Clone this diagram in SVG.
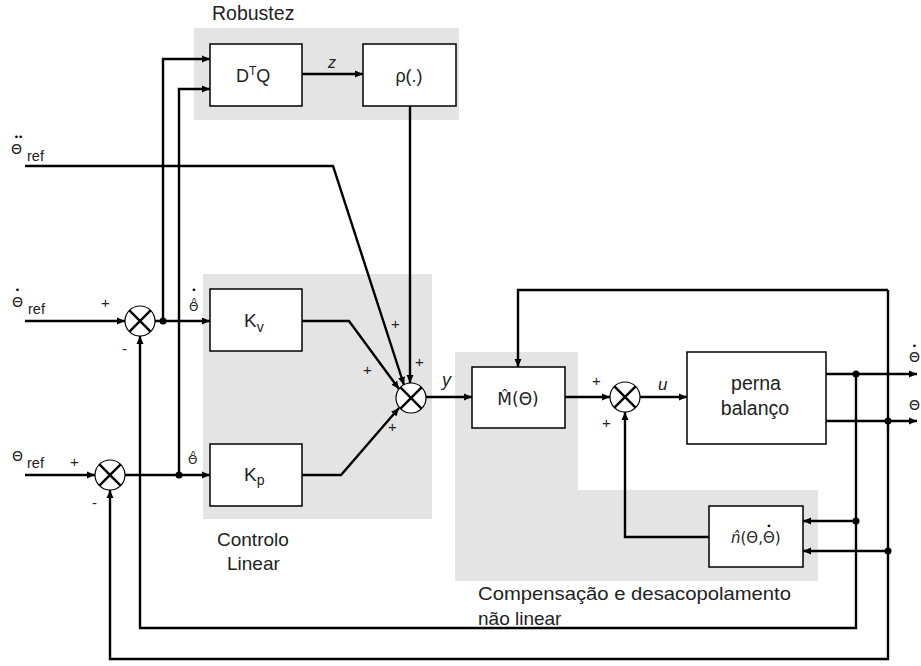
<svg xmlns="http://www.w3.org/2000/svg" width="921" height="666" viewBox="0 0 921 666">
<defs>
<marker id="ah" markerUnits="userSpaceOnUse" markerWidth="9" markerHeight="8" refX="8" refY="4" orient="auto">
<path d="M0,0.5 L8,4 L0,7.5 z" fill="#000"/>
</marker>
<style>
.bg{fill:#e4e4e4;stroke:none}
.box{fill:#fff;stroke:#000;stroke-width:1.5}
.ln{fill:none;stroke:#000;stroke-width:2.4;marker-end:url(#ah)}
.sumc{fill:#fff;stroke:#000;stroke-width:1.2}
.sumx{stroke:#000;stroke-width:2.4}
.t{font-family:"Liberation Sans",Arial,sans-serif;fill:#222}
.g{font-family:"DejaVu Sans",sans-serif;fill:#222}
.d{font-family:"DejaVu Sans",sans-serif;fill:#000;font-size:9px;text-anchor:middle}
.h{font-family:"Liberation Sans",Arial,sans-serif;fill:#222;font-size:10px;text-anchor:middle}
.dot{fill:#000}
</style>
</defs>
<rect width="921" height="666" fill="#fff"/>

<!-- gray regions -->
<g id="region-robustez">
<rect class="bg" x="194" y="28" width="265" height="92"/>
<text class="t" x="212" y="20" font-size="19.5">Robustez</text>
</g>
<g id="region-linear">
<rect class="bg" x="203" y="274" width="229" height="245"/>
<text class="t" x="217" y="546" font-size="19">Controlo</text>
<text class="t" x="227" y="570" font-size="19">Linear</text>
</g>
<g id="region-comp">
<path class="bg" d="M455,352 L578,352 L578,490 L818,490 L818,581 L455,581 z"/>
<text class="t" x="478" y="600" font-size="19" textLength="313" lengthAdjust="spacingAndGlyphs">Compensação e desacopolamento</text>
<text class="t" x="478" y="625" font-size="19">não linear</text>
</g>

<!-- connectors -->
<g id="connectors">
<path class="ln" d="M25,321 L125,321"/>
<path class="ln" d="M155,321 L210,321"/>
<path class="ln" d="M163,321 L163,59 L210,59"/>
<path class="ln" d="M25,475 L95,475"/>
<path class="ln" d="M125,475 L210,475"/>
<path class="ln" d="M179,475 L179,89 L210,89"/>
<path class="ln" d="M302,74 L363,74"/>
<path class="ln" d="M410,106 L410,383"/>
<path class="ln" d="M25,166 L333,166 L404,385"/>
<path class="ln" d="M302,321 L349,321 L399,389"/>
<path class="ln" d="M302,475 L341,475 L399,408"/>
<path class="ln" d="M426,397 L472,397"/>
<path class="ln" d="M565,397 L610,397"/>
<path class="ln" d="M640,397 L687,397"/>
<path class="ln" d="M826,374 L917,374"/>
<path class="ln" d="M826,421 L917,421"/>
<path class="ln" d="M888,290 L518,290 L518,367"/>
<path class="ln" d="M888,290 L888,659 L110,659 L110,490"/>
<path class="ln" d="M856,374 L856,628 L140,628 L140,336"/>
<path class="ln" d="M856,521 L803,521"/>
<path class="ln" d="M888,551 L803,551"/>
<path class="ln" d="M709,537 L625,537 L625,412"/>
<circle class="dot" cx="163" cy="321" r="3.5"/>
<circle class="dot" cx="179" cy="475" r="3.5"/>
<circle class="dot" cx="856" cy="374" r="3.5"/>
<circle class="dot" cx="888" cy="421" r="3.5"/>
<circle class="dot" cx="856" cy="521" r="3.5"/>
<circle class="dot" cx="888" cy="551" r="3.5"/>
</g>

<!-- signal labels -->
<g id="labels">
<text class="g" x="11" y="154" font-size="14">Θ</text>
<text class="d" x="18" y="140" letter-spacing="-1">••</text>
<text class="t" x="27" y="161" font-size="14.5">ref</text>
<text class="g" x="12" y="307" font-size="14">Θ</text>
<text class="d" x="17.5" y="293">•</text>
<text class="t" x="28" y="314" font-size="14.5">ref</text>
<text class="g" x="12" y="461" font-size="14">Θ</text>
<text class="t" x="27" y="468" font-size="14.5">ref</text>

<text class="g" x="189" y="311" font-size="12">Θ</text>
<text class="h" x="194" y="306">^</text>
<text class="d" x="194" y="293">•</text>
<text class="g" x="188" y="464" font-size="12">Θ</text>
<text class="h" x="193" y="459">^</text>

<text class="t" x="328" y="68" font-size="16" font-style="italic">z</text>
<text class="t" x="442" y="386" font-size="18" font-style="italic">y</text>
<text class="t" x="658" y="390" font-size="17" font-style="italic">u</text>
<text class="g" x="909" y="362" font-size="14">Θ</text>
<text class="d" x="914.5" y="349">•</text>
<text class="g" x="909" y="410" font-size="14">Θ</text>
<text class="t" x="101" y="308" font-size="15">+</text>
<text class="t" x="122" y="354" font-size="15">-</text>
<text class="t" x="70" y="467" font-size="15">+</text>
<text class="t" x="92" y="508" font-size="15">-</text>
<text class="t" x="391" y="329" font-size="15">+</text>
<text class="t" x="415" y="367" font-size="15">+</text>
<text class="t" x="363" y="375" font-size="15">+</text>
<text class="t" x="388" y="432" font-size="15">+</text>
<text class="t" x="592" y="386" font-size="15">+</text>
<text class="t" x="602" y="428" font-size="15">+</text>
</g>

<!-- summing junctions -->
<g id="sum1">
<circle class="sumc" cx="140" cy="321" r="15"/>
<path class="sumx" d="M129.4,310.4 L150.6,331.6 M150.6,310.4 L129.4,331.6"/>
</g>
<g id="sum2">
<circle class="sumc" cx="110" cy="475" r="15"/>
<path class="sumx" d="M99.4,464.4 L120.6,485.6 M120.6,464.4 L99.4,485.6"/>
</g>
<g id="sum3">
<circle class="sumc" cx="411" cy="398" r="15"/>
<path class="sumx" d="M400.4,387.4 L421.6,408.6 M421.6,387.4 L400.4,408.6"/>
</g>
<g id="sum4">
<circle class="sumc" cx="625" cy="397" r="15"/>
<path class="sumx" d="M614.4,386.4 L635.6,407.6 M635.6,386.4 L614.4,407.6"/>
</g>

<!-- blocks -->
<g id="dtq">
<rect class="box" x="210" y="44" width="92" height="62"/>
<text class="t" x="236" y="82" font-size="18">D<tspan font-size="12" dy="-7">T</tspan><tspan dy="7">Q</tspan></text>
</g>
<g id="rho">
<rect class="box" x="363" y="44" width="93" height="62"/>
<text class="t" x="409" y="82" font-size="18" text-anchor="middle">ρ(.)</text>
</g>
<g id="kv">
<rect class="box" x="210" y="289" width="92" height="62"/>
<text class="t" x="244" y="327" font-size="19">K<tspan font-size="14" dy="5">v</tspan></text>
</g>
<g id="kp">
<rect class="box" x="210" y="444" width="92" height="62"/>
<text class="t" x="244" y="481" font-size="19">K<tspan font-size="14" dy="4">p</tspan></text>
</g>
<g id="mhat">
<rect class="box" x="472" y="367" width="93" height="61"/>
<text class="g" x="518" y="405" font-size="17" text-anchor="middle">M̂(Θ)</text>
</g>
<g id="perna">
<rect class="box" x="687" y="352" width="139" height="92"/>
<text class="t" x="756" y="390" font-size="19.5" text-anchor="middle">perna</text>
<text class="t" x="755" y="415" font-size="19.5" text-anchor="middle">balanço</text>
</g>
<g id="nhat">
<rect class="box" x="709" y="506" width="94" height="61"/>
<text class="g" x="731" y="543" font-size="15"><tspan font-style="italic">n̂</tspan>(Θ,Θ)</text>
<text class="d" x="769" y="529">•</text>
</g>
</svg>
